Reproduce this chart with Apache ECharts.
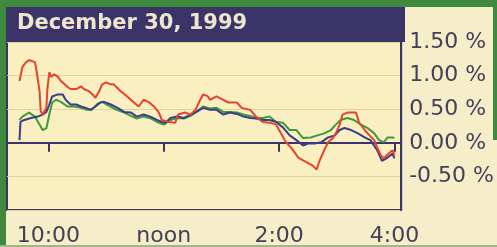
<!DOCTYPE html>
<html>
<head>
<meta charset="utf-8">
<script src="https://cdn.jsdelivr.net/npm/echarts@6/dist/echarts.min.js"></script>
<style>
  html, body { margin: 0; padding: 0; background: #f6edc9; }
  #chart { width: 497px; height: 247px; }
</style>
</head>
<body>
<div id="chart"></div>
<script>
// time in minutes since midnight, value in percent change
const red = [
  [570, 0.92], [573, 1.13], [577, 1.20], [580, 1.23], [586, 1.20], [587, 1.13], [589, 0.95],
  [591, 0.75], [592, 0.48], [594, 0.42], [598, 0.52], [599, 0.80], [601, 1.05], [603, 0.98],
  [606, 1.02], [610, 0.98], [613, 0.92], [617, 0.87], [620, 0.83], [623, 0.80], [629, 0.80],
  [634, 0.84], [637, 0.80], [642, 0.77], [646, 0.72], [649, 0.67], [653, 0.77], [656, 0.87],
  [660, 0.90], [665, 0.87], [668, 0.87], [675, 0.77], [682, 0.69], [689, 0.60], [694, 0.54],
  [699, 0.64], [704, 0.61], [710, 0.54], [715, 0.45], [718, 0.34], [725, 0.31], [732, 0.30],
  [735, 0.42], [742, 0.45], [748, 0.42], [753, 0.49], [758, 0.64], [761, 0.72], [766, 0.69],
  [768, 0.64], [775, 0.69], [782, 0.64], [787, 0.60], [796, 0.60], [801, 0.52], [810, 0.49],
  [816, 0.39], [823, 0.31], [830, 0.30], [837, 0.27], [842, 0.14], [847, 0.01], [853, -0.08],
  [860, -0.22], [866, -0.27], [875, -0.34], [879, -0.40], [882, -0.27], [887, -0.11], [891, 0.01],
  [896, 0.07], [899, 0.14], [903, 0.27], [906, 0.42], [911, 0.45], [920, 0.45], [923, 0.31],
  [929, 0.19], [934, 0.11], [939, 0.04], [942, -0.07], [946, -0.19], [949, -0.23], [954, -0.16],
  [958, -0.11], [960, -0.19]
];
const blue = [
  [570, 0.04], [571, 0.31], [575, 0.34], [582, 0.37], [589, 0.39], [594, 0.42], [598, 0.46],
  [601, 0.57], [604, 0.69], [610, 0.72], [615, 0.72], [618, 0.64], [623, 0.57], [629, 0.57],
  [634, 0.54], [639, 0.52], [644, 0.49], [649, 0.54], [654, 0.60], [658, 0.61], [665, 0.57],
  [672, 0.52], [679, 0.46], [686, 0.45], [692, 0.39], [699, 0.42], [706, 0.39], [713, 0.34],
  [718, 0.31], [722, 0.30], [727, 0.37], [734, 0.39], [741, 0.37], [748, 0.42], [754, 0.46],
  [761, 0.52], [768, 0.49], [775, 0.49], [782, 0.42], [789, 0.45], [796, 0.43], [803, 0.39],
  [810, 0.37], [816, 0.36], [823, 0.34], [830, 0.34], [837, 0.31], [844, 0.23], [851, 0.11],
  [858, 0.04], [865, -0.04], [870, -0.01], [877, -0.01], [884, 0.01], [891, 0.08], [898, 0.11],
  [903, 0.19], [908, 0.22], [915, 0.19], [922, 0.14], [929, 0.08], [935, 0.04], [942, -0.11],
  [947, -0.27], [953, -0.22], [958, -0.16], [960, -0.23]
];
const green = [
  [570, 0.34], [573, 0.39], [580, 0.45], [586, 0.39], [591, 0.27], [594, 0.19], [598, 0.22],
  [601, 0.42], [604, 0.60], [608, 0.64], [613, 0.61], [620, 0.54], [627, 0.54], [634, 0.52],
  [640, 0.49], [645, 0.49], [651, 0.58], [656, 0.61], [663, 0.55], [671, 0.49], [679, 0.45],
  [686, 0.40], [692, 0.36], [699, 0.39], [707, 0.36], [713, 0.31], [720, 0.27], [727, 0.34],
  [734, 0.37], [741, 0.36], [748, 0.40], [754, 0.46], [761, 0.54], [768, 0.51], [775, 0.52],
  [782, 0.46], [789, 0.46], [796, 0.45], [803, 0.42], [810, 0.40], [816, 0.37], [823, 0.37],
  [830, 0.39], [837, 0.31], [844, 0.30], [851, 0.19], [858, 0.19], [865, 0.07], [873, 0.08],
  [880, 0.11], [887, 0.14], [894, 0.19], [899, 0.27], [904, 0.34], [911, 0.37], [918, 0.34],
  [925, 0.27], [932, 0.22], [939, 0.14], [944, 0.04], [949, 0.01], [953, 0.08], [958, 0.08],
  [960, 0.07]
];
const tickTimes = [600, 720, 840, 960];
const tickNames = ['10:00', 'noon', '2:00', '4:00'];
const titleText = 'December 30, 1999';

var myChart = echarts.init(document.getElementById('chart'));

var navy = '#3a3468';
var labelColor = '#45405a';
var frameGreen = '#3f8a3c';

var option = {
  backgroundColor: '#f6edc9',
  animation: false,
  grid: {
    left: 7,
    right: 93,
    top: 42,
    bottom: 37,
    show: true,
    backgroundColor: '#f9efc0',
    borderColor: navy,
    borderWidth: 2
  },
  graphic: [
    // green frame
    { type: 'rect', left: 0, top: 0, shape: { width: 497, height: 7 }, style: { fill: frameGreen } },
    { type: 'rect', left: 0, top: 0, shape: { width: 6, height: 247 }, style: { fill: frameGreen } },
    { type: 'rect', left: 493, top: 0, shape: { width: 4, height: 140 }, style: { fill: frameGreen } },
    { type: 'rect', left: 0, top: 245, shape: { width: 497, height: 2 }, style: { fill: '#9fb88a' } },
    // title bar
    { type: 'rect', left: 6, top: 7, shape: { width: 399, height: 35 }, style: { fill: navy } },
    {
      type: 'text', left: 17, top: 13,
      style: {
        text: titleText,
        fill: '#efe5cc',
        font: 'bold 21px "DejaVu Sans"'
      }
    }
  ],
  xAxis: {
    type: 'value',
    min: 557,
    max: 967,
    splitLine: { show: false },
    axisLine: { show: true, lineStyle: { color: navy, width: 2 } },
    axisTick: {
      show: true,
      customValues: tickTimes,
      length: 9,
      lineStyle: { color: navy, width: 2 }
    },
    axisLabel: {
      customValues: tickTimes,
      margin: 15,
      color: labelColor,
      fontFamily: 'DejaVu Sans',
      fontSize: 22,
      formatter: function (v) {
        var i = tickTimes.indexOf(v);
        return i >= 0 ? tickNames[i] : '';
      }
    }
  },
  yAxis: {
    type: 'value',
    position: 'right',
    min: -1,
    max: 1.5,
    interval: 0.5,
    axisLine: { show: true, lineStyle: { color: navy, width: 2 } },
    axisTick: { show: false },
    splitLine: { show: true, lineStyle: { color: '#e2d59c', width: 1 } },
    axisLabel: {
      showMinLabel: false,
      margin: 8,
      color: labelColor,
      fontFamily: 'DejaVu Sans',
      fontSize: 22,
      formatter: function (v) {
        return v.toFixed(2) + ' %';
      }
    }
  },
  series: [
    {
      name: 'green',
      type: 'line',
      symbol: 'none',
      data: green,
      lineStyle: { color: '#3f9a3a', width: 2 },
      z: 2
    },
    {
      name: 'blue',
      type: 'line',
      symbol: 'none',
      data: blue,
      lineStyle: { color: '#3a3c8c', width: 2 },
      z: 3
    },
    {
      name: 'red',
      type: 'line',
      symbol: 'none',
      data: red,
      lineStyle: { color: '#e8412c', width: 2 },
      z: 4
    }
  ]
};

myChart.setOption(option);
</script>
</body>
</html>
